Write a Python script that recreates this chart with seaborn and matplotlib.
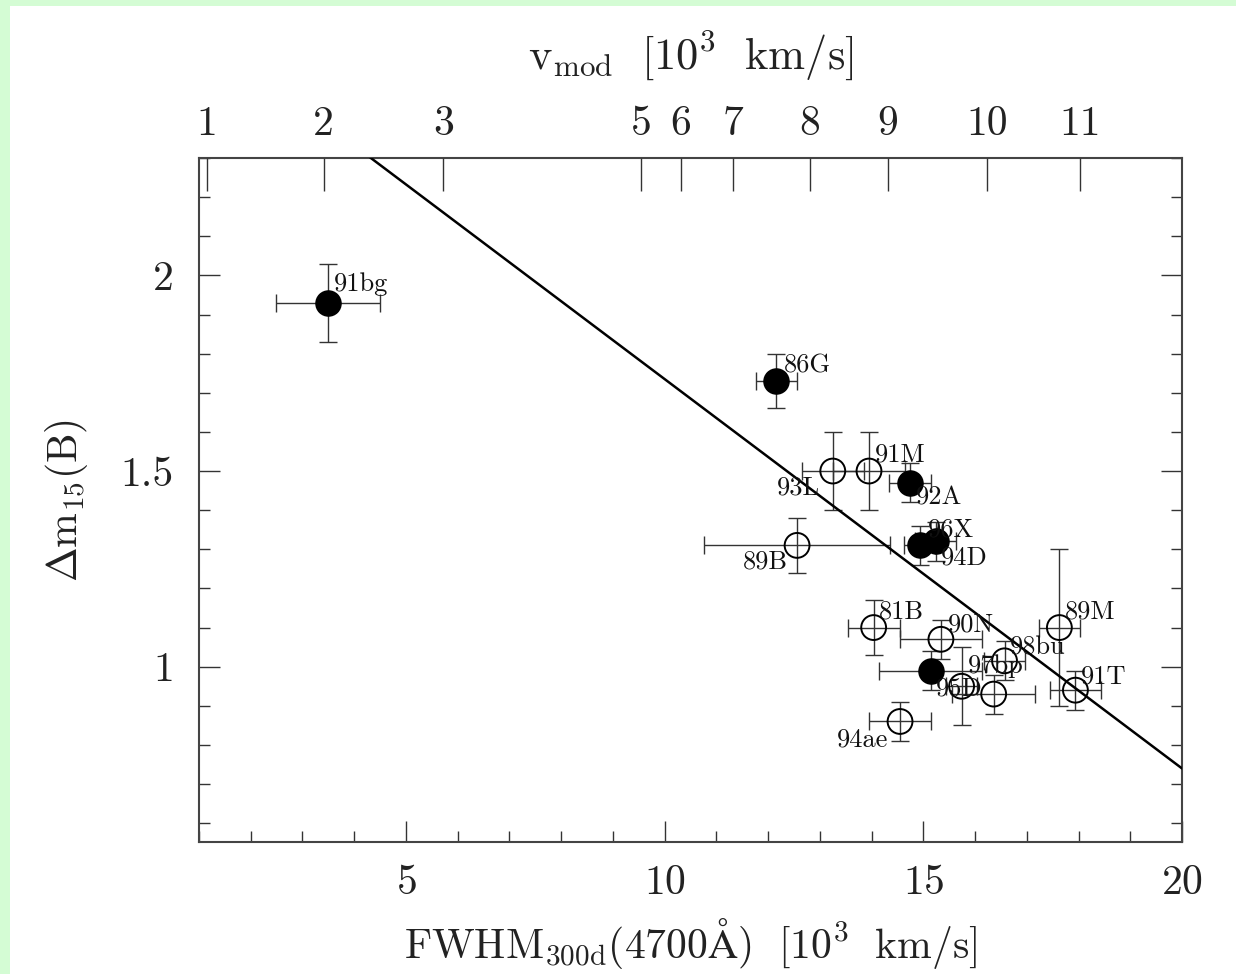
import numpy as np
import pandas as pd
import matplotlib
matplotlib.use("Agg")
import matplotlib.pyplot as plt
import seaborn as sns
from matplotlib.patches import Rectangle
from matplotlib.ticker import MultipleLocator, FixedLocator, FixedFormatter, FuncFormatter

# Supernova sample: FWHM of the 4700 A feature vs decline rate
names  = ["91bg", "86G", "93L", "91M", "92A", "89B", "96X", "94D", "81B",
          "90N", "", "95D", "97bp", "98bu", "89M", "91T", "94ae"]
fwhm   = [3.49, 12.16, 13.25, 13.95, 14.74, 12.56, 14.93, 15.24, 14.04,
          15.34, 15.14, 15.74, 16.36, 16.57, 17.63, 17.94, 14.55]
fwhm_err = [1.0, 0.4, 0.6, 0.7, 0.4, 1.8, 0.3, 0.4, 0.5,
            0.8, 1.0, 0.3, 0.8, 0.4, 0.4, 0.5, 0.6]
dm15   = [1.93, 1.73, 1.50, 1.50, 1.47, 1.31, 1.31, 1.32, 1.10,
          1.07, 0.99, 0.95, 0.93, 1.015, 1.10, 0.94, 0.86]
dm15_err = [0.10, 0.07, 0.10, 0.10, 0.05, 0.07, 0.05, 0.05, 0.07,
            0.05, 0.05, 0.10, 0.05, 0.05, 0.20, 0.05, 0.05]
filled = [True, True, False, False, True, False, True, True, False,
          False, True, False, False, False, False, False, False]

# label offsets (pixels) and alignment for each name
lab_dx = [6, 7, -13, 6, 6, -9, 8, 5, 5, 7, 0, -26, -26, 5, 5, 5, -12]
lab_dy = [19, 15, -17, 16, -15, -16, 16, -16, 16, 15, 0, -2, 28, 13, 16, 14, -18]
lab_ha = ["left", "left", "right", "left", "left", "right", "left", "left", "left",
          "left", "left", "left", "left", "left", "left", "left", "right"]

# linear relation drawn across the panel
fit_intercept = 2.73
fit_slope = -0.0995

# top axis: model velocity scale
vmod_labels = ["1", "2", "3", "5", "6", "7", "8", "9", "10", "11"]
vmod_at_fwhm = [1.15, 3.41, 5.72, 9.54, 10.31, 11.33, 12.81, 14.31, 16.24, 18.03]

df = pd.DataFrame({"name": names, "fwhm": fwhm, "fwhm_err": fwhm_err,
                   "dm15": dm15, "dm15_err": dm15_err, "filled": filled})

sns.set_theme(style="white")
plt.rcParams["font.family"] = ["cmr10", "DejaVu Serif"]
plt.rcParams["mathtext.fontset"] = "cm"
plt.rcParams["axes.formatter.use_mathtext"] = True

W, H = 1236, 974
fig = plt.figure(figsize=(W / 100, H / 100), dpi=100, facecolor="white")
green = "#d4fcd4"
fig.patches.append(Rectangle((0, 1 - 6 / H), 1, 6 / H, transform=fig.transFigure,
                             facecolor=green, edgecolor="none", zorder=0))
fig.patches.append(Rectangle((0, 0), 10 / W, 1, transform=fig.transFigure,
                             facecolor=green, edgecolor="none", zorder=0))

ax = fig.add_axes([199 / W, 1 - 842 / H, (1182 - 199) / W, (842 - 158) / H])
ax.set_facecolor("white")
ax.set_xlim(1, 20)
ax.set_ylim(0.552, 2.30)

ink = "#222222"
# error bars
ax.errorbar(df["fwhm"], df["dm15"], xerr=df["fwhm_err"], yerr=df["dm15_err"],
            fmt="none", ecolor="#333333", elinewidth=1.0, capsize=6.5,
            capthick=1.0, zorder=2)

# fit line
xl = np.array([1.0, 20.0])
sns.lineplot(x=xl, y=fit_intercept + fit_slope * xl, ax=ax, color="black",
             linewidth=1.8, zorder=3)

# markers
sns.scatterplot(data=df[df["filled"]], x="fwhm", y="dm15", ax=ax, s=320,
                color="black", edgecolor="black", linewidth=1.2, zorder=4)
sns.scatterplot(data=df[~df["filled"]], x="fwhm", y="dm15", ax=ax, s=320,
                facecolor="none", edgecolor="black", linewidth=1.4, zorder=4)

for n, x, y, dx, dy, ha in zip(names, fwhm, dm15, lab_dx, lab_dy, lab_ha):
    if n:
        ax.annotate(n, (x, y), xytext=(dx * 0.72, dy * 0.72),
                    textcoords="offset points", ha=ha, va="center",
                    fontsize=19, color="#111111", zorder=5)

# axes styling
for s in ax.spines.values():
    s.set_color("#444444")
    s.set_linewidth(1.5)

ax.xaxis.set_major_locator(MultipleLocator(5))
ax.xaxis.set_minor_locator(MultipleLocator(1))
ax.yaxis.set_major_locator(MultipleLocator(0.5))
ax.yaxis.set_minor_locator(MultipleLocator(0.1))
ax.yaxis.set_major_formatter(FuncFormatter(lambda v, p: f"{v:g}"))
ax.tick_params(which="major", direction="in", length=15, width=1.0,
               color="#333333", labelsize=30, labelcolor=ink, pad=16,
               top=False, right=True, bottom=True, left=True)
ax.tick_params(which="minor", direction="in", length=8, width=1.0,
               color="#333333", top=False, right=True, bottom=True, left=True)
ax.tick_params(axis="y", pad=18)

ax.set_xlabel(r"$\mathrm{FWHM_{300d}(4700\AA)\ \ [10^3\ \ km/s]}$",
              fontsize=30, color=ink, labelpad=10)
ax.set_ylabel(r"$\Delta\mathrm{m_{15}(B)}$", fontsize=30, color=ink, labelpad=22)

# top axis
top = ax.twiny()
top.set_xlim(ax.get_xlim())
top.xaxis.set_major_locator(FixedLocator(vmod_at_fwhm))
top.xaxis.set_major_formatter(FixedFormatter(vmod_labels))
top.xaxis.set_minor_locator(FixedLocator([]))
top.tick_params(axis="x", which="major", direction="in", length=24, width=1.0,
                color="#333333", labelsize=30, labelcolor=ink, pad=11)
for s in top.spines.values():
    s.set_visible(False)
top.set_xlabel(r"$\mathrm{v_{mod}\ \ [10^3\ \ km/s]}$", fontsize=32, color=ink,
               labelpad=26)

fig.savefig("out.png", dpi=100, facecolor="white")
